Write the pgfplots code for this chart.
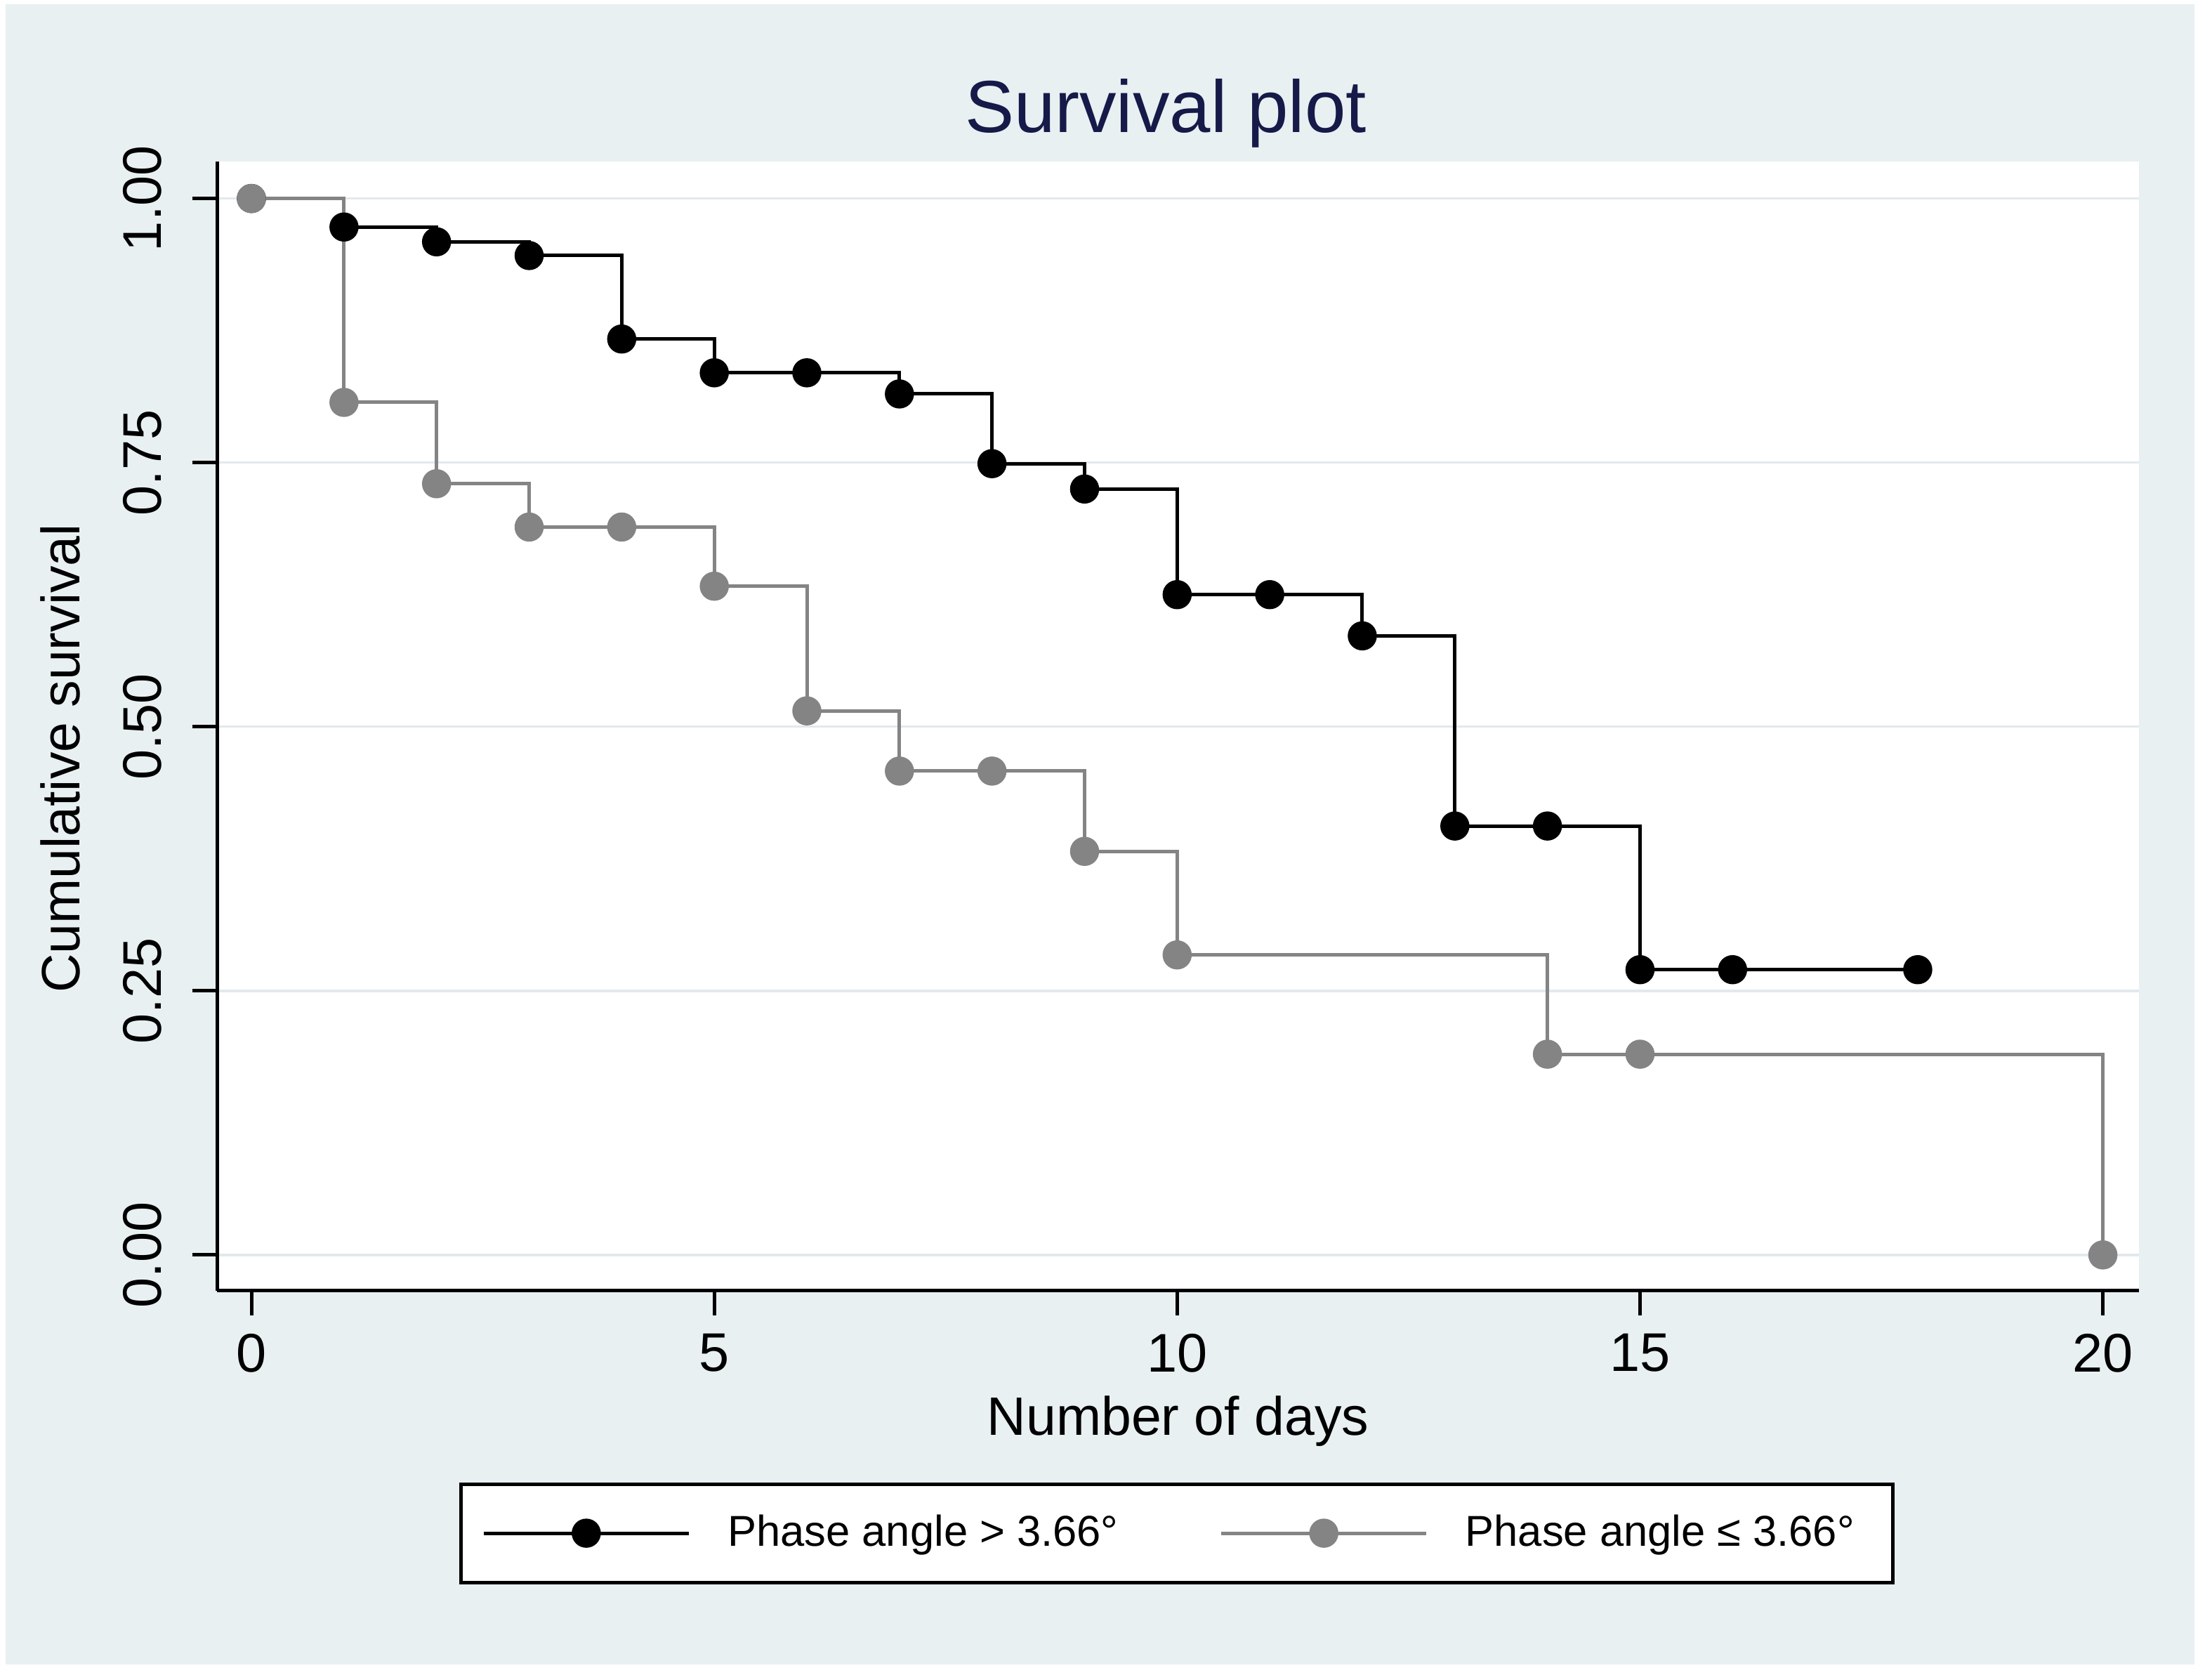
\documentclass[border=0pt]{standalone}
\usepackage{fontspec}
\setmainfont{Liberation Sans}
\usepackage{pgfplots}
\pgfplotsset{compat=1.18}
\definecolor{bgc}{RGB}{232,240,242}
\definecolor{gridc}{RGB}{226,233,237}
\definecolor{titlec}{RGB}{22,26,72}
\definecolor{grayc}{RGB}{132,132,132}
\begin{document}
\begin{tikzpicture}
\path[use as bounding box] (0,0) rectangle (630bp,477bp);
\fill[white] (0,0) rectangle (630bp,477bp);
\fill[bgc] (1.6bp,3bp) rectangle (625bp,475.8bp);
\begin{axis}[
  at={(61.8bp,109.4bp)}, anchor=south west,
  scale only axis, width=547.4bp, height=321.6bp,
  xmin=-0.372, xmax=20.39, ymin=-0.034, ymax=1.035,
  axis background/.style={fill=white},
  axis lines*=left,
  axis line style={-, black, line width=1bp},
  tick align=outside,
  major tick length=7bp,
  tick style={black, line width=1bp},
  xtick={0,5,10,15,20},
  ytick={0,0.25,0.5,0.75,1},
  yticklabels={0.00,0.25,0.50,0.75,1.00},
  ymajorgrids,
  grid style={gridc, line width=0.7bp},
  /pgf/number format/assume math mode=true,
  tick label style={font=\fontsize{15.5bp}{18bp}\selectfont, inner sep=0pt},
  yticklabel style={rotate=90, anchor=south},
  xticklabel style={anchor=north},
  xticklabel shift=5bp,
  yticklabel shift=8.5bp,
  every axis title shift=0pt,
  title={Survival plot},
  title style={font=\fontsize{21bp}{25bp}\selectfont, color=titlec, at={(axis description cs:0.4936,1.0261)}, anchor=base, inner sep=0pt},
  xlabel={Number of days},
  xlabel style={font=\fontsize{15.4bp}{18bp}\selectfont, at={(axis description cs:0.5,-0.1275)}, anchor=base, inner sep=0pt},
  ylabel={Cumulative survival},
  ylabel style={font=\fontsize{15.4bp}{18bp}\selectfont, at={(axis description cs:-0.0715,0.4714)}, anchor=base, inner sep=0pt},
  legend columns=2,
  legend style={at={(axis description cs:0.4995,-0.2146)}, anchor=center, draw=black, line width=1bp, fill=white, inner xsep=6bp, inner ysep=8.8bp, font=\fontsize{12.3bp}{15bp}\selectfont, nodes={inner sep=0pt}, /tikz/every odd column/.append style={column sep=10.6bp}, /tikz/every even column/.append style={column sep=28.8bp}},
  legend image code/.code={\draw[mark repeat=2, mark phase=2, #1] plot coordinates {(0bp,0bp) (29.2bp,0bp) (58.4bp,0bp)};},
]
\addplot[const plot, black, line width=1bp, mark=*, mark size=3.9bp, mark options={solid, fill=black, draw=black, line width=0.5bp}] coordinates {
(0,1.000) (1,0.973) (2,0.959) (3,0.946) (4,0.867) (5,0.835) (6,0.835) (7,0.815) (8,0.749) (9,0.725) (10,0.625) (11,0.625) (12,0.586) (13,0.406) (14,0.406) (15,0.270) (16,0.270) (18,0.270)
};
\addlegendentry{Phase angle > 3.66°}
\addplot[const plot, grayc, line width=1bp, mark=*, mark size=3.9bp, mark options={solid, fill=grayc, draw=grayc, line width=0.5bp}] coordinates {
(0,1.000) (1,0.807) (2,0.730) (3,0.689) (4,0.689) (5,0.633) (6,0.515) (7,0.458) (8,0.458) (9,0.382) (10,0.284) (14,0.190) (15,0.190) (20,0.000)
};
\addlegendentry{Phase angle ≤ 3.66°\hspace*{5bp}}
\end{axis}
\end{tikzpicture}
\end{document}
